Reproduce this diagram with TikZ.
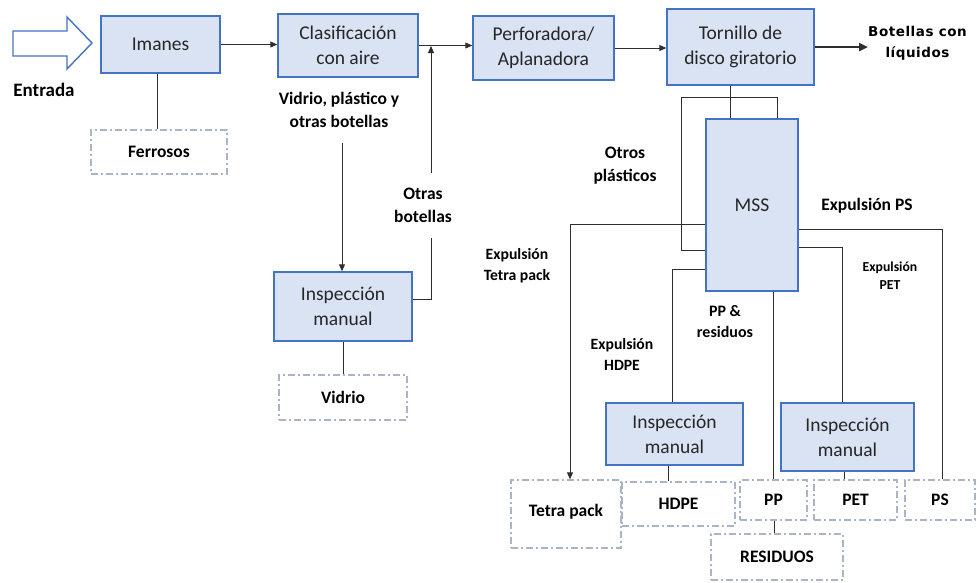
\documentclass[tikz,border=0pt]{standalone}
\usepackage{fontspec}
\setmainfont{Carlito}
\newfontfamily\widefont[LetterSpace=4]{DejaVu Sans}
\usetikzlibrary{arrows.meta}

\definecolor{boxfill}{HTML}{DAE3F3}
\definecolor{boxline}{HTML}{4472C4}
\definecolor{outline}{HTML}{A9B4C6}
\definecolor{wirecol}{HTML}{2E2E2E}

\tikzset{
  proc/.style={draw=boxline, fill=boxfill, line width=1.4pt, align=center,
    inner sep=0pt, font=\fontsize{19.5}{25}\selectfont, text=black!85},
  outbox/.style={draw=outline, line width=1.3pt,
    dash pattern=on 7pt off 3pt on 2pt off 3pt, align=center,
    inner sep=0pt, font=\bfseries\fontsize{17.5}{21}\selectfont},
  lbl/.style={align=center, inner sep=0pt},
  wire/.style={draw=wirecol, line width=0.9pt},
  arr/.style={wire, -{Triangle[length=7pt,width=6pt]}},
}

\begin{document}
\begin{tikzpicture}[x=1pt,y=-1pt]
\useasboundingbox (0,0) rectangle (977,582);

% input arrow
\draw[boxline, line width=1.4pt, fill=white]
  (13,31) -- (67,31) -- (67,17) -- (92,43) -- (67,69) -- (67,56) -- (13,56) -- cycle;
\node[lbl, font=\bfseries\fontsize{19}{22}\selectfont] (entrada) at (44,90) {Entrada};

% process boxes
\node[proc, minimum width=119pt, minimum height=57pt] (imanes) at (160.5,44.5) {Imanes};
\node[proc, minimum width=140pt, minimum height=63pt] (clas) at (348,45.5) {Clasificación\\con aire};
\node[proc, minimum width=141pt, minimum height=64pt] (perf) at (543.5,48) {Perforadora/\\Aplanadora};
\node[proc, minimum width=147pt, minimum height=76pt] (torn) at (740.5,47) {Tornillo de\\disco giratorio};
\node[proc, minimum width=92pt, minimum height=172pt] (mss) at (752,205) {MSS};
\node[proc, minimum width=138pt, minimum height=69pt] (insp1) at (343,306.5) {Inspección\\manual};
\node[proc, minimum width=137pt, minimum height=62pt] (insp2) at (674.5,434) {Inspección\\manual};
\node[proc, minimum width=133pt, minimum height=68pt] (insp3) at (847.5,437) {Inspección\\manual};

% output bins
\node[outbox, minimum width=136pt, minimum height=44pt] (ferro) at (159,152) {Ferrosos};
\node[outbox, minimum width=128pt, minimum height=45pt] (vidrio) at (343,397.5) {Vidrio};
\node[outbox, minimum width=110pt, minimum height=68pt] (tetra) at (566,514) {\raisebox{7pt}{Tetra pack}};
\node[outbox, minimum width=113pt, minimum height=44pt] (hdpe) at (678.5,504) {HDPE};
\node[outbox, minimum width=67pt, minimum height=40pt] (pp) at (773.5,500) {PP};
\node[outbox, minimum width=83pt, minimum height=40pt] (pet) at (855.5,500) {PET};
\node[outbox, minimum width=70pt, minimum height=40pt] (ps) at (940,500) {PS};
\node[outbox, minimum width=132pt, minimum height=46pt] (resid) at (777,557) {RESIDUOS};

% stream labels
\node[lbl, font=\bfseries\fontsize{17.5}{23}\selectfont] (vpl) at (339,110) {Vidrio, plástico y\\otras botellas};
\node[lbl, font=\bfseries\fontsize{17.5}{23}\selectfont] (otras) at (423,205) {Otras\\botellas};
\node[lbl, font=\bfseries\fontsize{17.5}{23}\selectfont] (otros) at (625,166) {Otros\\plásticos};
\node[lbl, font=\bfseries\fontsize{15.7}{21}\selectfont] (ltetra) at (517,266) {Expulsión\\Tetra pack};
\node[lbl, font=\bfseries\fontsize{15.7}{21}\selectfont] (lhdpe) at (622,354) {Expulsión\\HDPE};
\node[lbl, font=\bfseries\fontsize{16}{21}\selectfont] (lpp) at (725,322) {PP \&\\residuos};
\node[lbl, font=\bfseries\fontsize{17.5}{21}\selectfont] (lps) at (867,206) {Expulsión PS};
\node[lbl, font=\bfseries\fontsize{13.7}{18}\selectfont] (lpet) at (890,276) {Expulsión\\PET};
\node[lbl, anchor=west, font=\widefont\bfseries\fontsize{13.5}{21}\selectfont] (liq) at (868,43) {Botellas con\\líquidos};

% routing coordinates
\coordinate (vstart) at (342,143);
\coordinate (ob1) at (431,238);
\coordinate (ob2) at (431,173);
\coordinate (obj) at (431,46);
\coordinate (tj) at (730,97);
\coordinate (lpL) at (681,97);
\coordinate (lpR) at (777,97);
\coordinate (yOtros) at (0,250);
\coordinate (yT) at (0,224);
\coordinate (yH) at (0,269);
\coordinate (yPET) at (0,247);
\coordinate (yPS) at (0,229);
\coordinate (xT) at (570,0);
\coordinate (xH) at (672,0);
\coordinate (xP) at (773,0);
\coordinate (xPET) at (842,0);
\coordinate (xPS) at (942,0);

% main line
\draw[arr] (imanes.east) -- (imanes.east -| clas.west);
\draw[arr] (clas.east) -- (clas.east -| perf.west);
\draw[arr] (perf.east) -- (perf.east -| torn.west);
\draw[wirecol, line width=2.6pt, -{Triangle[length=9pt,width=8pt]}] (torn.east) -- (torn.east -| liq.west);

% first stage branches
\draw[wire] (imanes.south -| 157,0) -- (ferro.north -| 157,0);
\draw[arr] (vstart) -- (vstart |- insp1.north);
\draw[wire] (insp1.south) -- (vidrio.north);
\draw[wire] (insp1.east |- 0,299) -| (ob1);
\draw[arr] (ob2) -- (obj);

% feed to MSS and recirculation of other plastics
\draw[wire] (tj |- torn.south) -- (tj |- mss.north);
\draw[wire] (lpR |- mss.north) -- (lpR) -- (lpL) |- (mss.west |- yOtros);

% MSS ejections
\draw[arr] (mss.west |- yT) -| (xT |- tetra.north);
\draw[wire] (mss.west |- yH) -| (xH |- insp2.north);
\draw[wire] (xP |- mss.south) -- (xP |- pp.north);
\draw[wire] (mss.east |- yPET) -| (xPET |- insp3.north);
\draw[wire] (mss.east |- yPS) -| (xPS |- ps.north);

% manual inspection outputs
\draw[wire] (insp2.south -| 668,0) -- (hdpe.north -| 668,0);
\draw[wire] (insp3.south -| 844,0) -- (pet.north -| 844,0);
\draw[wire] (pp.south -| 774,0) -- (resid.north -| 774,0);
\end{tikzpicture}
\end{document}
